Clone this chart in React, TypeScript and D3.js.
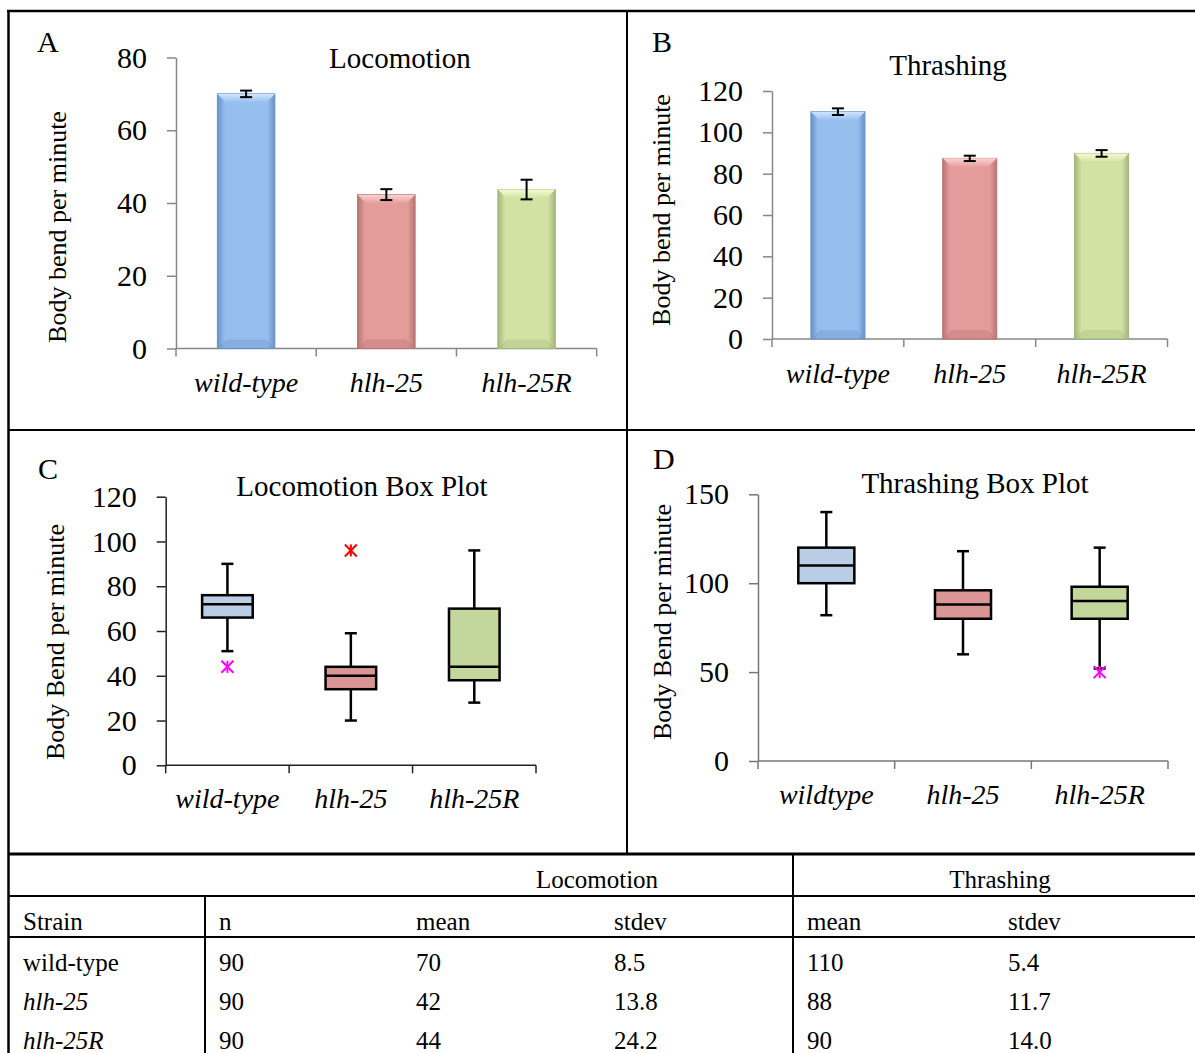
import React, { useEffect, useRef } from "react";
import * as d3 from "d3";

// ---- data ----
const strains = ["wild-type", "hlh-25", "hlh-25R"];
const strainsD = ["wildtype", "hlh-25", "hlh-25R"];

const locoMeans = [70, 42.3, 43.7];
const locoErr = [0.9, 1.5, 2.7];
const locoTicks = [0, 20, 40, 60, 80];

const thrashMeans = [110, 87.4, 89.8];
const thrashErr = [1.6, 1.3, 1.6];
const thrashTicks = [0, 20, 40, 60, 80, 100, 120];

const locoBoxMin = [51, 20, 28];
const locoBoxQ1 = [66, 34, 38];
const locoBoxMed = [72, 40, 44];
const locoBoxQ3 = [76, 44, 70];
const locoBoxMax = [90, 59, 96];
const locoOutliers = [[44], [96], []];
const locoBoxTicks = [0, 20, 40, 60, 80, 100, 120];

const thrBoxMin = [82, 60, 52];
const thrBoxQ1 = [100, 80, 80];
const thrBoxMed = [110, 88, 90];
const thrBoxQ3 = [120, 96, 98];
const thrBoxMax = [140, 118, 120];
const thrOutliers = [[], [], [50]];
const thrBoxTicks = [0, 50, 100, 150];

const tableN = [90, 90, 90];
const tableLocoMean = [70, 42, 44];
const tableLocoSd = ["8.5", "13.8", "24.2"];
const tableThrMean = [110, 88, 90];
const tableThrSd = ["5.4", "11.7", "14.0"];

const barColors = [
  { base: "#95bdee", dark: "#6a91c6", light: "#cfe6ff" },
  { base: "#e49c9b", dark: "#b87473", light: "#fbd3d2" },
  { base: "#d1e2a3", dark: "#a4b67c", light: "#f4fbd2" },
];
const boxColors = ["#b9cde5", "#d99694", "#c3d69b"];

const serif = "'Liberation Serif', 'Times New Roman', serif";
const W = 1195;
const H = 1053;
const PAD_IN = 0.59;
const PAD_OUT = 0.295;

function styleAxis(g: any, color: string, size: number) {
  g.select(".domain").attr("stroke", color).attr("stroke-width", 1.5);
  g.selectAll(".tick line").attr("stroke", color).attr("stroke-width", 1.5);
  g.selectAll(".tick text").attr("fill", "#000").attr("font-size", size).attr("font-family", serif);
}

function xFrame(svg: any, x: any, y0: number, color: string, cats: string[], labelY: number, labelSize: number) {
  const [r0] = x.range();
  const bounds = d3.range(cats.length + 1).map((i) => r0 + i * x.step());
  svg.append("line")
    .attr("x1", bounds[0]).attr("x2", bounds[bounds.length - 1])
    .attr("y1", y0).attr("y2", y0)
    .attr("stroke", color).attr("stroke-width", 1.5);
  svg.selectAll(null).data(bounds).enter().append("line")
    .attr("x1", (d: number) => d).attr("x2", (d: number) => d)
    .attr("y1", y0).attr("y2", y0 + 8)
    .attr("stroke", color).attr("stroke-width", 1.5);
  svg.selectAll(null).data(cats).enter().append("text")
    .attr("x", (d: string) => x(d) + x.bandwidth() / 2)
    .attr("y", labelY)
    .attr("text-anchor", "middle")
    .attr("font-family", serif).attr("font-style", "italic")
    .attr("font-size", labelSize)
    .text((d: string) => d);
}

function panelText(svg: any, o: any) {
  svg.append("text").attr("x", o.letterX).attr("y", o.letterY)
    .attr("font-family", serif).attr("font-size", 30).text(o.letter);
  svg.append("text").attr("x", o.titleX).attr("y", o.titleY)
    .attr("text-anchor", "middle")
    .attr("font-family", serif).attr("font-size", 29).text(o.title);
  svg.append("text")
    .attr("transform", `translate(${o.ylabX},${o.ylabY}) rotate(-90)`)
    .attr("text-anchor", "middle").attr("dy", "0.3em")
    .attr("font-family", serif).attr("font-size", 26).text(o.ylab);
}

function drawBars(svg: any, o: any) {
  const x = d3.scaleBand().domain(o.cats).range([o.x0, o.x1]).paddingInner(PAD_IN).paddingOuter(PAD_OUT);
  const y = d3.scaleLinear().domain([0, o.max]).range([o.y0, o.y1]);
  const axisColor = "#878787";

  const ya = svg.append("g").attr("transform", `translate(${o.x0},0)`)
    .call(d3.axisLeft(y).tickValues(o.ticks).tickSize(9).tickSizeOuter(0).tickPadding(20));
  styleAxis(ya, axisColor, 30);
  xFrame(svg, x, o.y0, axisColor, o.cats, o.catY, 28);

  const bw = x.bandwidth();
  const bev = 9;
  o.cats.forEach((c: string, i: number) => {
    const col = barColors[i];
    const bx = x(c)!;
    const top = y(o.means[i]);
    const bot = y(0);
    svg.append("rect")
      .attr("x", bx).attr("y", top).attr("width", bw).attr("height", bot - top)
      .attr("fill", `url(#side${i})`).attr("stroke", col.dark).attr("stroke-width", 1);
    svg.append("path")
      .attr("d", `M${bx},${top}L${bx + bw},${top}L${bx + bw - bev},${top + bev}L${bx + bev},${top + bev}Z`)
      .attr("fill", `url(#topb${i})`);
    svg.append("path")
      .attr("d", `M${bx},${bot}L${bx + bev},${bot - bev}L${bx + bw - bev},${bot - bev}L${bx + bw},${bot}Z`)
      .attr("fill", col.dark).attr("opacity", 0.35);
    const cx = bx + bw / 2;
    const eHi = y(o.means[i] + o.errs[i]);
    const eLo = y(o.means[i] - o.errs[i]);
    svg.append("line").attr("x1", cx).attr("x2", cx).attr("y1", eHi).attr("y2", eLo)
      .attr("stroke", "#000").attr("stroke-width", 2);
    [eHi, eLo].forEach((yy) => {
      svg.append("line").attr("x1", cx - 6).attr("x2", cx + 6).attr("y1", yy).attr("y2", yy)
        .attr("stroke", "#000").attr("stroke-width", 2);
    });
  });
  panelText(svg, o);
}

function drawBoxes(svg: any, o: any) {
  const x = d3.scaleBand().domain(o.cats).range([o.x0, o.x1]).paddingInner(PAD_IN).paddingOuter(PAD_OUT);
  const y = d3.scaleLinear().domain([0, o.max]).range([o.y0, o.y1]);

  const ya = svg.append("g").attr("transform", `translate(${o.x0},0)`)
    .call(d3.axisLeft(y).tickValues(o.ticks).tickSize(9).tickSizeOuter(0).tickPadding(20));
  styleAxis(ya, o.axisColor, 30);
  xFrame(svg, x, o.y0, o.axisColor, o.cats, o.catY, 28);

  const bw = x.bandwidth();
  o.cats.forEach((c: string, i: number) => {
    const cx = x(c)! + bw / 2;
    const line = (x1: number, y1: number, x2: number, y2: number) =>
      svg.append("line").attr("x1", x1).attr("y1", y1).attr("x2", x2).attr("y2", y2)
        .attr("stroke", "#000").attr("stroke-width", 2.5);
    line(cx, y(o.max_[i]), cx, y(o.q3[i]));
    line(cx, y(o.q1[i]), cx, y(o.min_[i]));
    line(cx - 6, y(o.max_[i]), cx + 6, y(o.max_[i]));
    line(cx - 6, y(o.min_[i]), cx + 6, y(o.min_[i]));
    svg.append("rect")
      .attr("x", x(c)).attr("y", y(o.q3[i]))
      .attr("width", bw).attr("height", y(o.q1[i]) - y(o.q3[i]))
      .attr("fill", boxColors[i]).attr("stroke", "#000").attr("stroke-width", 2.5);
    line(x(c)!, y(o.med[i]), x(c)! + bw, y(o.med[i]));
    o.outliers[i].forEach((v: number) => {
      const color = v < o.med[i] ? "#ff00ff" : "#ff0000";
      const g = svg.append("g").attr("transform", `translate(${cx},${y(v)})`)
        .attr("stroke", color).attr("stroke-width", 2);
      g.append("line").attr("x1", 0).attr("x2", 0).attr("y1", -6).attr("y2", 6);
      g.append("line").attr("x1", -6).attr("x2", 6).attr("y1", -6).attr("y2", 6);
      g.append("line").attr("x1", -6).attr("x2", 6).attr("y1", 6).attr("y2", -6);
    });
  });
  panelText(svg, o);
}

function drawTable(svg: any) {
  const cols = [23, 219, 416, 614, 807, 1008];
  const rowY = [971, 1010, 1049];
  const txt = (x: number, y: number, s: string | number, italic = false, anchor = "start") =>
    svg.append("text").attr("x", x).attr("y", y).attr("text-anchor", anchor)
      .attr("font-family", serif).attr("font-size", 25)
      .attr("font-style", italic ? "italic" : "normal").text(s);
  txt(597, 888, "Locomotion", false, "middle");
  txt(1000, 888, "Thrashing", false, "middle");
  ["Strain", "n", "mean", "stdev", "mean", "stdev"].forEach((h, j) => txt(cols[j], 930, h));
  strains.forEach((s, i) => {
    txt(cols[0], rowY[i], s, i > 0);
    txt(cols[1], rowY[i], tableN[i]);
    txt(cols[2], rowY[i], tableLocoMean[i]);
    txt(cols[3], rowY[i], tableLocoSd[i]);
    txt(cols[4], rowY[i], tableThrMean[i]);
    txt(cols[5], rowY[i], tableThrSd[i]);
  });
}

function drawFrame(svg: any) {
  const ln = (x1: number, y1: number, x2: number, y2: number, w: number) =>
    svg.append("line").attr("x1", x1).attr("y1", y1).attr("x2", x2).attr("y2", y2)
      .attr("stroke", "#000").attr("stroke-width", w);
  ln(7, 11, W, 11, 2.5);
  ln(8.5, 10, 8.5, H, 2.5);
  ln(627, 11, 627, 854, 2);
  ln(8, 430, W, 430, 2);
  ln(8, 854, W, 854, 3);
  ln(8, 896, W, 896, 2);
  ln(8, 937, W, 937, 2);
  ln(205, 896, 205, H, 2);
  ln(793, 854, 793, H, 2);
}

export default function App() {
  const ref = useRef<SVGSVGElement>(null);

  useEffect(() => {
    const svg = d3.select(ref.current);
    svg.selectAll("*").remove();

    const defs = svg.append("defs");
    barColors.forEach((c, i) => {
      const side = defs.append("linearGradient").attr("id", `side${i}`)
        .attr("x1", 0).attr("x2", 1).attr("y1", 0).attr("y2", 0);
      side.append("stop").attr("offset", 0).attr("stop-color", c.dark);
      side.append("stop").attr("offset", 0.13).attr("stop-color", c.base);
      side.append("stop").attr("offset", 0.87).attr("stop-color", c.base);
      side.append("stop").attr("offset", 1).attr("stop-color", c.dark);
      const topb = defs.append("linearGradient").attr("id", `topb${i}`)
        .attr("x1", 0).attr("x2", 0).attr("y1", 0).attr("y2", 1);
      topb.append("stop").attr("offset", 0).attr("stop-color", c.light);
      topb.append("stop").attr("offset", 1).attr("stop-color", c.base);
    });

    drawFrame(svg);

    drawBars(svg, {
      cats: strains, means: locoMeans, errs: locoErr, ticks: locoTicks, max: 80,
      x0: 176, x1: 596.7, y0: 348.5, y1: 57.5, catY: 392,
      letter: "A", letterX: 37, letterY: 52,
      title: "Locomotion", titleX: 400, titleY: 68,
      ylab: "Body bend per minute", ylabX: 58, ylabY: 227,
    });

    drawBars(svg, {
      cats: strains, means: thrashMeans, errs: thrashErr, ticks: thrashTicks, max: 120,
      x0: 772, x1: 1167.5, y0: 339, y1: 91, catY: 383,
      letter: "B", letterX: 652, letterY: 52,
      title: "Thrashing", titleX: 948, titleY: 75,
      ylab: "Body bend per minute", ylabX: 662, ylabY: 210,
    });

    drawBoxes(svg, {
      cats: strains, min_: locoBoxMin, q1: locoBoxQ1, med: locoBoxMed, q3: locoBoxQ3, max_: locoBoxMax,
      outliers: locoOutliers, ticks: locoBoxTicks, max: 120, axisColor: "#222",
      x0: 165.7, x1: 536, y0: 765.3, y1: 496.7, catY: 808,
      letter: "C", letterX: 38, letterY: 479,
      title: "Locomotion Box Plot", titleX: 362, titleY: 496,
      ylab: "Body Bend per minute", ylabX: 56, ylabY: 642,
    });

    drawBoxes(svg, {
      cats: strainsD, min_: thrBoxMin, q1: thrBoxQ1, med: thrBoxMed, q3: thrBoxQ3, max_: thrBoxMax,
      outliers: thrOutliers, ticks: thrBoxTicks, max: 150, axisColor: "#777",
      x0: 758, x1: 1168, y0: 761, y1: 494.3, catY: 804,
      letter: "D", letterX: 653, letterY: 469,
      title: "Thrashing Box Plot", titleX: 975, titleY: 493,
      ylab: "Body Bend per minute", ylabX: 663, ylabY: 622,
    });

    drawTable(svg);
  }, []);

  return (
    <svg
      ref={ref}
      width={W}
      height={H}
      style={{ position: "absolute", left: 0, top: 0, background: "#fff" }}
    />
  );
}
